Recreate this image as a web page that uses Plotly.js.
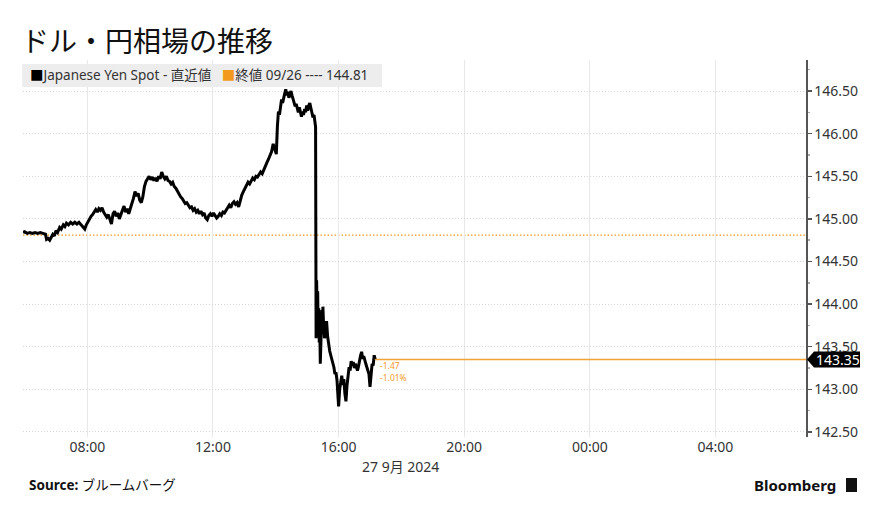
<!DOCTYPE html>
<html>
<head>
<meta charset="utf-8">
<script src="https://cdn.plot.ly/plotly-3.0.1.min.js"></script>
<style>html,body{margin:0;padding:0;background:#fff;}#chart{width:878px;height:530px;}</style>
</head>
<body>
<div id="chart"></div>
<script>
const day = '2024-09-27';
const times = [
'05:57','06:00','06:05','06:10','06:15','06:20','06:25','06:30','06:35','06:40',
'06:42','06:45','06:48','06:51','06:54','06:57','07:00','07:03','07:07','07:10',
'07:14','07:17','07:20','07:24','07:28','07:32','07:36','07:40','07:44','07:48',
'07:52','07:55','07:58','08:01','08:04','08:07','08:10','08:13','08:16','08:19',
'08:22','08:25','08:28','08:31','08:34','08:37','08:40','08:43','08:46','08:49',
'08:52','08:55','08:58','09:01','09:04','09:07','09:10','09:13','09:16','09:19',
'09:22','09:25','09:28','09:31','09:34','09:37','09:40','09:43','09:46','09:49',
'09:52','09:55','09:58','10:01','10:04','10:07','10:10','10:13','10:16','10:19',
'10:22','10:25','10:28','10:31','10:34','10:37','10:40','10:43','10:46','10:49',
'10:52','10:55','10:58','11:01','11:04','11:07','11:10','11:13','11:16','11:19',
'11:22','11:25','11:28','11:31','11:34','11:37','11:40','11:43','11:46','11:49',
'11:52','11:55','11:58','12:01','12:04','12:07','12:10','12:13','12:16','12:19',
'12:22','12:25','12:28','12:31','12:34','12:37','12:40','12:43','12:46','12:49',
'12:52','12:55','12:58','13:01','13:04','13:07','13:10','13:13','13:16','13:19',
'13:22','13:25','13:28','13:31','13:34','13:37','13:40','13:43','13:46','13:49',
'13:52','13:55','13:58','14:01','14:03','14:05','14:07','14:09','14:11','14:13',
'14:15','14:17','14:19','14:21','14:23','14:25','14:27','14:29','14:31','14:33',
'14:35','14:37','14:39','14:41','14:43','14:45','14:47','14:49','14:51','14:53',
'14:55','14:57','14:59','15:01','15:03','15:05','15:07','15:09','15:11','15:13',
'15:15','15:16','15:17','15:18','15:19','15:20','15:21','15:22','15:23','15:24',
'15:25','15:26','15:27','15:28','15:29','15:30','15:31','15:33','15:35','15:37',
'15:39','15:41','15:43','15:45','15:47','15:49','15:51','15:53','15:55','15:57',
'15:59','16:00','16:02','16:04','16:06','16:08','16:10','16:12','16:14','16:16',
'16:18','16:20','16:22','16:24','16:26','16:28','16:30','16:32','16:34','16:36',
'16:38','16:40','16:42','16:44','16:46','16:48','16:50','16:52','16:54','16:56',
'16:58','17:00','17:02','17:04','17:06','17:08','17:10'
];
const yenSpot = [
144.84,144.85,144.83,144.84,144.83,144.84,144.83,144.84,144.83,144.82,
144.76,144.77,144.75,144.78,144.82,144.80,144.86,144.84,144.90,144.88,
144.93,144.91,144.95,144.93,144.96,144.94,144.96,144.94,144.96,144.93,
144.90,144.88,144.93,144.97,144.99,145.03,145.05,145.09,145.11,145.08,
145.12,145.10,145.13,145.08,145.04,145.02,145.05,144.98,144.94,145.06,
145.09,145.03,145.07,145.00,145.06,145.10,145.15,145.08,145.12,145.06,
145.11,145.18,145.24,145.32,145.27,145.30,145.22,145.19,145.26,145.38,
145.44,145.47,145.50,145.46,145.49,145.45,145.48,145.44,145.50,145.47,
145.55,145.50,145.47,145.50,145.45,145.44,145.41,145.43,145.38,145.36,
145.32,145.30,145.26,145.24,145.21,145.18,145.19,145.15,145.13,145.14,
145.10,145.12,145.08,145.10,145.06,145.09,145.05,145.07,145.01,144.99,
145.04,145.06,145.03,145.07,145.04,145.01,145.03,145.06,145.04,145.08,
145.07,145.11,145.13,145.16,145.13,145.18,145.20,145.17,145.19,145.14,
145.22,145.28,145.32,145.36,145.38,145.43,145.41,145.45,145.48,145.46,
145.50,145.49,145.52,145.55,145.53,145.58,145.62,145.66,145.70,145.75,
145.79,145.88,145.82,145.76,146.08,146.26,146.22,146.34,146.40,146.36,
146.44,146.47,146.52,146.45,146.49,146.42,146.46,146.50,146.45,146.40,
146.36,146.32,146.35,146.29,146.25,146.31,146.24,146.20,146.26,146.22,
146.29,146.25,146.33,146.27,146.33,146.36,146.30,146.24,146.19,146.22,
146.11,146.08,143.60,144.28,143.85,144.15,143.65,143.95,143.55,143.75,
143.30,143.55,143.70,143.93,143.75,143.97,143.80,143.60,143.68,143.80,
143.62,143.50,143.45,143.40,143.36,143.30,143.26,143.18,143.20,143.10,
142.95,142.80,143.00,143.08,143.16,143.05,143.12,142.95,142.86,143.04,
143.20,143.26,143.22,143.33,143.28,143.32,143.25,143.30,143.26,143.22,
143.27,143.36,143.40,143.44,143.36,143.39,143.32,143.30,143.26,143.22,
143.18,143.03,143.22,143.30,143.28,143.40,143.35
];
const prevClose = 144.81;
const prevCloseDate = '09/26';
const seriesName = 'Japanese Yen Spot - 直近値';
const changeLabels = ['-1.47', '-1.01%'];
const dateLabel = '27 9月 2024';
const titleText = 'ドル・円相場の推移';

const xs = times.map(t => day + ' ' + t);
const lastX = xs[xs.length - 1];
const lastY = yenSpot[yenSpot.length - 1];
const xRange = ['2024-09-27 05:57', '2024-09-28 06:53'];
const FONT = 'Noto Sans, Noto Sans CJK JP, sans-serif';
const ORANGE = '#f39a1e';

const trace = {
  x: xs, y: yenSpot, type: 'scatter', mode: 'lines',
  line: {color: '#000', width: 3, shape: 'linear'},
  name: seriesName, showlegend: false, hoverinfo: 'skip'
};

const layout = {
  width: 878, height: 530,
  margin: {l: 23, r: 72, t: 60, b: 93},
  paper_bgcolor: '#fff', plot_bgcolor: '#fff',
  font: {family: FONT, color: '#222'},
  showlegend: false,
  title: {
    text: titleText, font: {family: 'Noto Sans CJK JP', size: 28, color: '#111'},
    x: 21/878, xanchor: 'left', xref: 'container',
    y: 1 - 42/530, yanchor: 'middle', yref: 'container'
  },
  xaxis: {
    type: 'date', range: xRange,
    tick0: '2024-09-27 00:00', dtick: 4*3600*1000, tickformat: '%H:%M',
    showgrid: true, gridcolor: '#e8e8e8', gridwidth: 1,
    ticks: '', showline: false, zeroline: false,
    tickfont: {family: FONT, size: 14, color: '#333'},
    fixedrange: true
  },
  yaxis: {
    side: 'right', range: [142.441, 146.864],
    tick0: 142.5, dtick: 0.5, tickformat: '.2f',
    showgrid: true, gridcolor: '#d6d6d6', griddash: '1px,2px', gridwidth: 1,
    showline: true, linecolor: '#555', linewidth: 1.5,
    ticks: 'outside', ticklen: 4, tickcolor: '#555', tickwidth: 1.5,
    minor: {dtick: 0.25, ticks: 'outside', ticklen: 2, tickcolor: '#aaa', showgrid: false},
    zeroline: false,
    tickfont: {family: FONT, size: 14, color: '#333'},
    fixedrange: true
  },
  shapes: [
    {type: 'rect', xref: 'paper', yref: 'paper', x0: -0.001, x1: 0.4585, y0: 0.9284, y1: 0.9894,
     fillcolor: 'rgba(236,236,236,0.95)', line: {width: 0}, layer: 'above'},
    {type: 'line', xref: 'paper', yref: 'y', x0: 0, x1: 1, y0: prevClose, y1: prevClose,
     line: {color: ORANGE, width: 1.4, dash: '1.5px,2px'}, layer: 'below'},
    {type: 'line', xref: 'x', yref: 'y', x0: lastX, x1: xRange[1], y0: lastY, y1: lastY,
     line: {color: '#f0a435', width: 1.3}, layer: 'above'},
    {type: 'path', xref: 'paper', xsizemode: 'pixel', xanchor: 1,
     yref: 'y', ysizemode: 'pixel', yanchor: lastY,
     path: 'M1,0 L8,-8 L54,-8 L54,8 L8,8 Z',
     fillcolor: '#000', line: {width: 0}, layer: 'above'},
    {type: 'rect', xref: 'paper', yref: 'paper', x0: 1.0511, x1: 1.0651, y0: -0.1459, y1: -0.1088,
     fillcolor: '#111', line: {width: 0}}
  ],
  annotations: [
    {xref: 'paper', yref: 'paper', x: 0.006, y: 0.9589, xanchor: 'left', yanchor: 'middle', showarrow: false,
     text: '<span style="color:#000">■</span>' + seriesName + '   <span style="color:' + ORANGE + '">■</span>終値 ' + prevCloseDate + ' ---- ' + prevClose.toFixed(2),
     font: {family: FONT, size: 13.5, color: '#333'}},
    {xref: 'paper', yref: 'y', x: 1, y: lastY, xanchor: 'left', yanchor: 'middle', xshift: 8, showarrow: false,
     text: lastY.toFixed(2), font: {family: FONT, size: 14, color: '#fff'}},
    {xref: 'x', yref: 'y', x: lastX, y: lastY, xanchor: 'left', yanchor: 'middle', xshift: 3, yshift: -6, showarrow: false,
     text: changeLabels[0], font: {family: FONT, size: 8.5, color: ORANGE}},
    {xref: 'x', yref: 'y', x: lastX, y: lastY, xanchor: 'left', yanchor: 'middle', xshift: 3, yshift: -18, showarrow: false,
     text: changeLabels[1], font: {family: FONT, size: 8.5, color: ORANGE}},
    {xref: 'paper', yref: 'paper', x: 0.4815, y: -0.077, xanchor: 'center', yanchor: 'middle', showarrow: false,
     text: dateLabel, font: {family: FONT, size: 14, color: '#333'}},
    {xref: 'paper', yref: 'paper', x: 0.005, y: -0.127, xanchor: 'left', yanchor: 'middle', showarrow: false,
     text: '<b>Source:</b> ブルームバーグ', font: {family: FONT, size: 13.5, color: '#111'}},
    {xref: 'paper', yref: 'paper', x: 1.041, y: -0.127, xanchor: 'right', yanchor: 'middle', showarrow: false,
     text: '<b>Bloomberg</b>', font: {family: FONT, size: 15, color: '#111'}}
  ]
};

Plotly.newPlot('chart', [trace], layout, {staticPlot: true, displayModeBar: false});
</script>
</body>
</html>
